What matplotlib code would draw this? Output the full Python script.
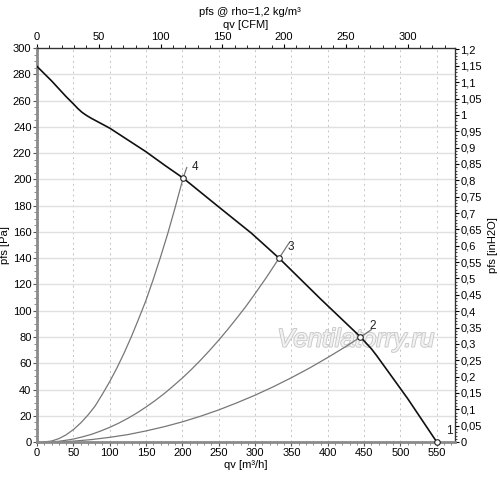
import numpy as np
import matplotlib
matplotlib.use('Agg')
import matplotlib.pyplot as plt
from matplotlib.ticker import MultipleLocator, FuncFormatter
import matplotlib.patheffects as pe

plt.rcParams['font.family'] = ['Liberation Sans', 'DejaVu Sans']
plt.rcParams['font.size'] = 8

# fan curve, qv [m3/h] vs pfs [Pa]
fan_q = [0, 20, 40, 50, 56, 62, 68, 75, 100, 125, 150, 175, 201, 250, 295, 333, 390, 445, 460, 467, 510, 550]
fan_p = [286, 275, 263, 257.5, 254, 251, 248.7, 246.4, 239, 230, 221, 211, 201, 179, 159, 140, 109, 80, 71, 66, 33, 0]

# system curves
sys4_q = [8, 20, 30, 40, 50, 60, 70, 80, 90, 100, 110, 120, 130, 140, 150, 160, 170, 180, 190, 201, 206]
sys4_p = [0, 0.8, 2.6, 5.5, 9.5, 14.5, 20.5, 27.5, 36.5, 46, 56.5, 68, 80.5, 94, 108, 124, 141, 159, 178.5, 201, 209]
sys3_q = [8, 20, 30, 40, 50, 62, 75, 87, 100, 112, 125, 137, 150, 162, 175, 187, 200,
          212, 224, 237, 250, 262, 275, 287, 300, 316, 333, 346]
sys3_p = [0, 0.2, 0.6, 1.4, 2.3, 3.9, 5.9, 8.3, 11.2, 14.3, 18.1, 22, 26.7, 31.4, 36.9, 42.5, 48.8,
          55.1, 61.8, 69.5, 77.6, 85.5, 94.5, 103, 113, 125.7, 140, 151]
sys2_q = [8, 30, 50, 75, 100, 125, 150, 175, 200, 225, 250, 275, 300, 325, 350, 375, 400, 425, 445, 460]
sys2_p = [0, 0.2, 0.7, 1.9, 3.6, 5.7, 8.5, 11.7, 15.4, 19.7, 24.5, 29.9, 35.7, 42.1, 49, 56.4, 64.4, 72.8, 80, 85.6]

# operating points
pt_q = [550, 445, 333, 201]
pt_p = [0, 80, 140, 201]
pt_lbl = ['1', '2', '3', '4']

fig = plt.figure(figsize=(5, 4.8), dpi=100)
ax = fig.add_axes([0.074, 0.079, 0.836, 0.821])

ax.set_xlim(0, 575)
ax.set_ylim(0, 300)

# grid
ax.xaxis.set_major_locator(MultipleLocator(50))
ax.xaxis.set_minor_locator(MultipleLocator(10))
ax.yaxis.set_major_locator(MultipleLocator(20))
ax.yaxis.set_minor_locator(MultipleLocator(5))
for x in np.arange(50, 575, 50):
    ax.axvline(x, color='#c4c4c4', lw=0.7, ls=(0, (2, 3.5)), zorder=0)
for y in np.arange(20, 300, 20):
    ax.axhline(y, color='#e0e0e0', lw=1.0, zorder=0)

# curves
for q, p in [(sys4_q, sys4_p), (sys3_q, sys3_p), (sys2_q, sys2_p)]:
    ax.plot(q, p, color='#777777', lw=0.9, zorder=2)
ax.plot(fan_q, fan_p, color='#111111', lw=1.2, zorder=3)
ax.plot(pt_q, pt_p, 'o', ms=4, mfc='white', mec='#222222', mew=0.8, zorder=4, clip_on=False)
for q, p, t in zip(pt_q, pt_p, pt_lbl):
    ax.text(q + 12, p + 6, t, fontsize=8.5, color='#222222', zorder=5)

# watermark
ax.text(439, 78, 'Ventilatorry.ru', fontsize=18.5, style='italic', color='#f2f2f2',
        ha='center', va='center', zorder=1,
        path_effects=[pe.withStroke(linewidth=1.3, foreground='#c8c8c8')])

# spines
for s in ['left', 'bottom']:
    ax.spines[s].set_color('#8a8a8a')
    ax.spines[s].set_linewidth(2)
for s in ['top', 'right']:
    ax.spines[s].set_color('#333333')
    ax.spines[s].set_linewidth(0.9)

ax.tick_params(which='major', length=3, width=0.8, color='#555555', pad=1)
ax.tick_params(which='minor', length=2, width=0.6, color='#777777')
ax.set_xlabel('qv [m³/h]', labelpad=2)
ax.set_ylabel('pfs [Pa]', labelpad=2)

# top axis in CFM
top = ax.secondary_xaxis('top', functions=(lambda q: q / 1.699, lambda c: c * 1.699))
top.xaxis.set_major_locator(MultipleLocator(50))
top.xaxis.set_minor_locator(MultipleLocator(10))
top.tick_params(which='major', length=3, width=0.8, pad=1)
top.tick_params(which='minor', length=2, width=0.6)
top.set_xlabel('qv [CFM]', labelpad=3)

# right axis in inH2O
def comma(v, pos):
    s = f'{v:.2f}'.rstrip('0').rstrip('.')
    return s.replace('.', ',')

right = ax.secondary_yaxis('right', functions=(lambda p: p / 249.09, lambda w: w * 249.09))
right.yaxis.set_major_locator(MultipleLocator(0.05))
right.yaxis.set_minor_locator(MultipleLocator(0.01))
right.yaxis.set_major_formatter(FuncFormatter(comma))
right.tick_params(which='major', length=3, width=0.8, pad=1)
right.tick_params(which='minor', length=1.5, width=0.5)
right.set_ylabel('pfs [inH2O]', labelpad=4)

fig.text(0.5, 0.975, 'pfs @ rho=1,2 kg/m³', ha='center', va='center', fontsize=8)

fig.savefig('out.png', dpi=100)
